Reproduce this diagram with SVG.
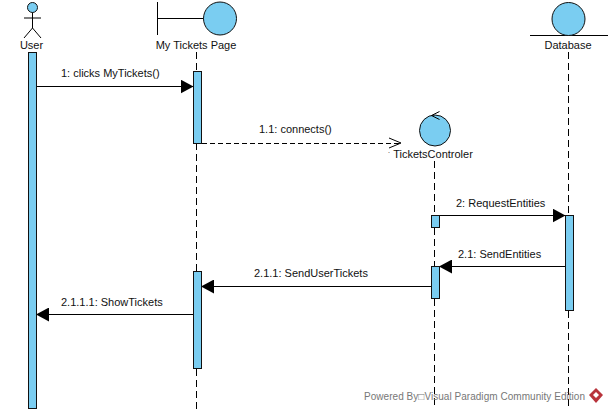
<svg xmlns="http://www.w3.org/2000/svg" width="608" height="413" viewBox="0 0 608 413">
<style>
text{font-family:"Liberation Sans",Arial,sans-serif;font-size:11px;fill:#111}
.m{text-anchor:middle}
.fill{fill:#7acdf1;stroke:#111;stroke-width:1}
.ln{fill:none;stroke:#000;stroke-width:1}
.life{fill:none;stroke:#000;stroke-width:1;stroke-dasharray:7 4}
.msg{fill:none;stroke:#000;stroke-width:1;marker-end:url(#solid)}
.ret{fill:none;stroke:#000;stroke-width:1;stroke-dasharray:5 3}
</style>
<defs>
<marker id="solid" markerUnits="userSpaceOnUse" markerWidth="14" markerHeight="14" refX="13" refY="7" orient="auto"><path d="M0 0L13 7L0 14z" fill="#000"/></marker>
</defs>
<rect width="608" height="413" fill="#fff"/>
<g id="connectors">
<path class="life" d="M196.500 52V71M196.500 143V271M196.500 369V409"/>
<path class="life" d="M434.500 161V215M434.500 228V266M434.500 299V409"/>
<path class="life" d="M568.500 52V215M568.500 311V409"/>
<path class="msg" d="M36 86.500H193.500"/>
<path class="ret" d="M202 143.500H400"/>
<path class="ln" d="M389 138L401 143L389 148"/>
<path class="msg" d="M440 215.500H565.500"/>
<path class="msg" d="M565 266.500H439"/>
<path class="msg" d="M431 286.500H201"/>
<path class="msg" d="M193 314.500H36"/>
<text x="61" y="77">1: clicks MyTickets()</text>
<text x="259" y="133">1.1: connects()</text>
<text x="456" y="207">2: RequestEntities</text>
<text x="458" y="258">2.1: SendEntities</text>
<text x="254" y="277">2.1.1: SendUserTickets</text>
<text x="61" y="306">2.1.1.1: ShowTickets</text>
</g>
<g id="user">
<circle class="fill" cx="32.500" cy="7.500" r="5"/>
<path class="ln" d="M32.500 12.500V28M24 18H41M24 38L32.500 28L41 38"/>
<text class="m" x="31.500" y="49">User</text>
<rect class="fill" x="28.500" y="52.500" width="8" height="356"/>
</g>
<g id="my-tickets-page">
<path class="ln" d="M157.500 2V35M157.500 18.500H204"/>
<circle class="fill" cx="220" cy="18.500" r="16.500"/>
<text class="m" x="196" y="49">My Tickets Page</text>
<rect class="fill" x="193.500" y="71.500" width="8" height="72"/>
<rect class="fill" x="193.500" y="271.500" width="8" height="97"/>
</g>
<g id="tickets-controler">
<circle class="fill" cx="435" cy="130.500" r="15.500"/>
<path class="ln" d="M439.500 111.500L431.500 115.500L439.500 119.500"/>
<text class="m" x="433" y="158">TicketsControler</text>
<text x="388" y="153" style="font-size:7px">.</text>
<rect class="fill" x="431.500" y="215.500" width="8" height="12"/>
<rect class="fill" x="431.500" y="266.500" width="8" height="32"/>
</g>
<g id="database">
<path class="ln" d="M530 35.500H608"/>
<circle class="fill" cx="568.500" cy="19" r="16.500"/>
<text class="m" x="568" y="49">Database</text>
<rect class="fill" x="565.500" y="215.500" width="8" height="95"/>
</g>
<g id="watermark">
<text x="364" y="400" textLength="221" style="font-size:10px;fill:#777">Powered By□Visual Paradigm Community Edition</text>
<path d="M596 388L603 395L596 403L589 395z" fill="#b8333b"/>
<path d="M596 392L599 395L596 398L593 395z" fill="#fff"/>
</g>
</svg>
